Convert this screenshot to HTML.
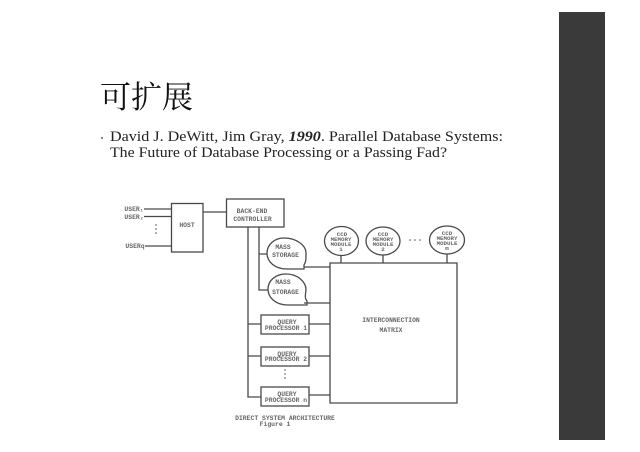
<!DOCTYPE html>
<html>
<head>
<meta charset="utf-8">
<style>
html,body{margin:0;padding:0;background:#fff;}
body{width:640px;height:452px;overflow:hidden;position:relative;}
svg{position:absolute;left:0;top:0;}
.d{font-family:"Liberation Mono",monospace;font-weight:bold;fill:#666;text-anchor:middle;}
</style>
</head>
<body>
<svg width="640" height="452" viewBox="0 0 640 452" xmlns="http://www.w3.org/2000/svg">
<defs><filter id="b" x="-5%" y="-5%" width="110%" height="110%"><feGaussianBlur stdDeviation="0.35"/></filter></defs>
<rect x="559" y="12" width="46" height="428" fill="#3a3a3a"/>
<text x="100" y="108" font-family="'Liberation Serif','Noto Serif CJK SC',serif" font-size="31" fill="#111">可扩展</text>
<circle cx="102" cy="138" r="1.2" fill="#888"/>
<text x="110" y="141" font-family="'Liberation Serif',serif" font-size="14.500" fill="#222" textLength="393" lengthAdjust="spacingAndGlyphs">David J. DeWitt, Jim Gray, <tspan font-weight="bold" font-style="italic">1990</tspan>.  Parallel Database Systems:</text>
<text x="110" y="157" font-family="'Liberation Serif',serif" font-size="14.500" fill="#222" textLength="337" lengthAdjust="spacingAndGlyphs">The Future of Database Processing or a Passing Fad?</text>

<g filter="url(#b)">
<g fill="none" stroke="#4a4a4a" stroke-width="1.300">
<rect x="171.500" y="203.500" width="31.500" height="48.500"/>
<rect x="226.500" y="199" width="57.500" height="28"/>
<path d="M144 209H171M144 216.500H171M145 246H171M203 212H226"/>
<path d="M248 227V397H261M248 324H261M248 356H261"/>
<path d="M259 227V290H268M259 254H267"/>
<path d="M330 263H457V403H330Z"/>
<path d="M304 267H330M304 303H330M309 324H330M309 356H330M309 395H330"/>
<path d="M341 255V263M383 255V263M447 254V263"/>
<rect x="261" y="315" width="48" height="19"/>
<rect x="261" y="347" width="48" height="19"/>
<rect x="261" y="387" width="48" height="19"/>
<ellipse cx="341.500" cy="241" rx="17" ry="14.500"/>
<ellipse cx="383" cy="241" rx="17" ry="14"/>
<ellipse cx="447" cy="240" rx="17.500" ry="14"/>
<path d="M284 238C274 238 267 245 267 253C267 262 275 269 287 269H304V265C306 262 306 260 306 253C306 245 296 238 284 238Z"/>
<path d="M286 274C275 274 268 281 268 289C268 298 276 305 288 305H307V301C305 299 305 297 306 290C306 282 298 274 286 274Z"/>
</g>
<g fill="#555">
<circle cx="156" cy="225" r=".8"/><circle cx="156" cy="229" r=".8"/><circle cx="156" cy="233" r=".8"/>
<circle cx="285" cy="370" r=".8"/><circle cx="285" cy="374" r=".8"/><circle cx="285" cy="378" r=".8"/>
<circle cx="410" cy="240" r=".8"/><circle cx="415" cy="240" r=".8"/><circle cx="420" cy="240" r=".8"/>
</g>
<g class="d" font-size="6.400">
<text x="134" y="211">USER₁</text>
<text x="134" y="219">USER₂</text>
<text x="135" y="248">USERq</text>
<text x="187" y="227">HOST</text>
<text x="252" y="213">BACK-END</text>
<text x="252.500" y="221">CONTROLLER</text>
<text x="283" y="249">MASS</text>
<text x="285.500" y="257">STORAGE</text>
<text x="283" y="284">MASS</text>
<text x="285.500" y="294">STORAGE</text>
<text x="391" y="322">INTERCONNECTION</text>
<text x="391" y="332">MATRIX</text>
<text x="287" y="324">QUERY</text><text x="286" y="330">PROCESSOR 1</text>
<text x="287" y="356">QUERY</text><text x="286" y="361">PROCESSOR 2</text>
<text x="287" y="396">QUERY</text><text x="286" y="402">PROCESSOR n</text>
<text x="285" y="420">DIRECT SYSTEM ARCHITECTURE</text>
<text x="275" y="426">Figure 1</text>
</g>
<g class="d" font-size="5.800">
<text x="342" y="236">CCD</text><text x="341" y="241">MEMORY</text><text x="341" y="246">MODULE</text><text x="341" y="251">1</text>
<text x="383" y="236">CCD</text><text x="383" y="241">MEMORY</text><text x="383" y="246">MODULE</text><text x="383" y="251">2</text>
<text x="447" y="235">CCD</text><text x="447" y="240">MEMORY</text><text x="447" y="245">MODULE</text><text x="447" y="250">m</text>
</g>
</g>
</svg>
</body>
</html>
